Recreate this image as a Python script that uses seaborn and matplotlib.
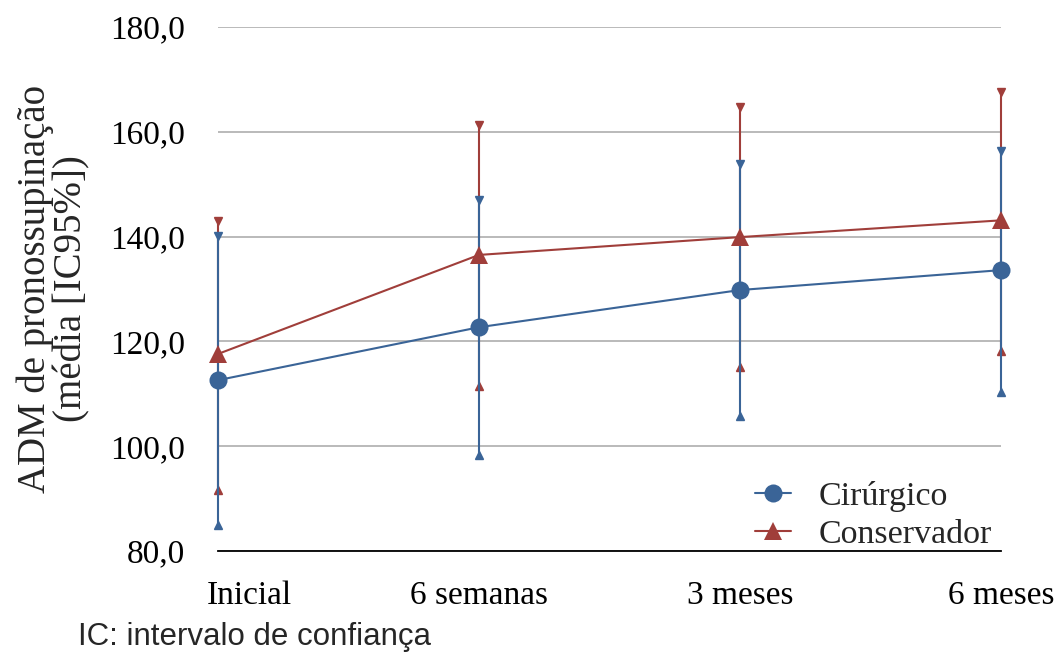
import pandas as pd
import matplotlib.pyplot as plt
import matplotlib.transforms as mtransforms
import seaborn as sns

# Dados
momentos = ['Inicial', '6 semanas', '3 meses', '6 meses']
cir_media = [112.6, 122.7, 129.8, 133.6]
cir_inf = [85.0, 98.3, 105.8, 110.4]
cir_sup = [140.2, 146.9, 153.9, 156.4]
con_media = [117.6, 136.5, 139.9, 143.1]
con_inf = [91.6, 111.4, 115.1, 118.2]
con_sup = [143.0, 161.3, 164.7, 167.5]

azul = '#3A6497'
vermelho = '#A03E3A'

data = pd.DataFrame({
    'x': list(range(4)) * 2,
    'media': cir_media + con_media,
    'grupo': ['Cirúrgico'] * 4 + ['Conservador'] * 4,
})

sns.set_style('white')
plt.rcParams['font.family'] = ['Liberation Serif', 'DejaVu Serif']

fig = plt.figure(figsize=(10.55, 6.53), dpi=100)
ax = fig.add_axes([0.2066, 0.1562, 0.7422, 0.8025])

# Intervalos de confiança (vermelho primeiro, azul por cima)
for x, lo, hi in zip(range(4), con_inf, con_sup):
    ax.plot([x, x], [lo, hi], color=vermelho, lw=1.5, zorder=2, clip_on=False)
    ax.plot(x, hi, marker='v', color=vermelho, ms=6, zorder=2, clip_on=False)
    ax.plot(x, lo, marker='^', color=vermelho, ms=6, zorder=2, clip_on=False)
for x, lo, hi in zip(range(4), cir_inf, cir_sup):
    ax.plot([x, x], [lo, hi], color=azul, lw=1.5, zorder=3, clip_on=False)
    ax.plot(x, hi, marker='v', color=azul, ms=6, zorder=3, clip_on=False)
    ax.plot(x, lo, marker='^', color=azul, ms=6, zorder=3, clip_on=False)

sns.lineplot(data=data, x='x', y='media', hue='grupo', style='grupo',
             palette={'Cirúrgico': azul, 'Conservador': vermelho},
             markers={'Cirúrgico': 'o', 'Conservador': '^'},
             dashes=False, markersize=13, markeredgewidth=0, linewidth=1.5,
             ax=ax, legend=False, zorder=4, clip_on=False)

ax.set_xlim(0, 3)
ax.set_ylim(80, 180)
ax.set_yticks([80, 100, 120, 140, 160, 180])
ax.set_yticklabels(['80,0', '100,0', '120,0', '140,0', '160,0', '180,0'])
ax.set_xticks(range(4))
ax.set_xticklabels(momentos)
ax.tick_params(axis='both', labelsize=24, colors='black')
ax.tick_params(axis='y', direction='inout', length=7, width=1.3, pad=20)
ax.tick_params(axis='x', direction='out', length=7, width=1.3, pad=14)
ax.grid(axis='y', color='#B4B4B4', lw=1.3)
ax.grid(axis='x', visible=False)
for s in ['top', 'right', 'left']:
    ax.spines[s].set_visible(False)
ax.spines['bottom'].set_color('black')
ax.spines['bottom'].set_linewidth(1.3)
ax.spines['bottom'].set_zorder(5)

# o rótulo "Inicial" fica deslocado para a direita no original
rot0 = ax.get_xticklabels()[0]
rot0.set_transform(rot0.get_transform() +
                   mtransforms.ScaledTranslation(0.31, 0, fig.dpi_scale_trans))

ax.set_xlabel('')
ax.set_ylabel('ADM de pronossupinação\n(média [IC95%])', fontsize=28,
              linespacing=1.0, labelpad=14)

h1, = ax.plot([], [], color=azul, marker='o', ms=13, mew=0, lw=1.5)
h2, = ax.plot([], [], color=vermelho, marker='^', ms=13, mew=0, lw=1.5)
ax.legend([h1, h2], ['Cirúrgico', 'Conservador'], loc='lower right',
          bbox_to_anchor=(1.027, -0.057), frameon=False, fontsize=24.5,
          handlelength=1.05, handletextpad=0.8, labelspacing=0.22)

fig.text(0.074, 0.013, 'IC: intervalo de confiança', fontsize=22.5,
         family='Liberation Sans', ha='left', va='baseline')

fig.savefig('out.png', dpi=100)
